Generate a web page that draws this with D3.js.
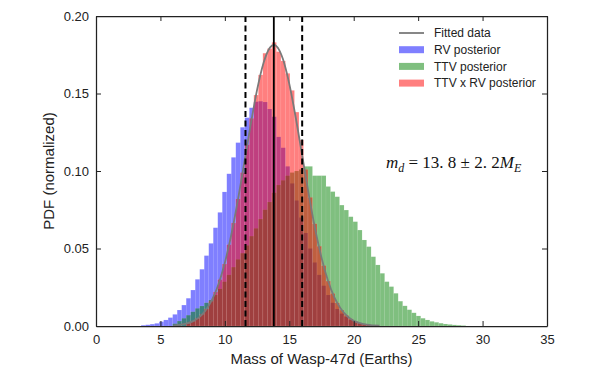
<!DOCTYPE html>
<html>
<head>
<meta charset="utf-8">
<script src="https://cdn.jsdelivr.net/npm/d3@7"></script>
<style>
  body { margin: 0; background: #fff; }
  svg { display: block; font-family: "Liberation Sans", Arial, sans-serif; }
</style>
</head>
<body>
<div id="chart"></div>
<script>
// histogram bins (all three share the same 0.35-wide grid)
const binWidth = 0.35;

const rvStart = 3.5;
const rvValues = [
  0.0005, 0.0008, 0.0012, 0.0017, 0.0028, 0.0039, 0.0054, 0.0075, 0.0103, 0.0135,
  0.0179, 0.0232, 0.0301, 0.0366, 0.0454, 0.0533, 0.0634, 0.0733, 0.0865, 0.0982,
  0.1088, 0.1183, 0.1282, 0.1344, 0.1408, 0.1447, 0.1450, 0.1445, 0.1400, 0.1350,
  0.1220, 0.1150, 0.1030, 0.0920, 0.0810, 0.0700, 0.0600, 0.0500, 0.0410, 0.0330,
  0.0260, 0.0200, 0.0150, 0.0110, 0.0080, 0.0060, 0.0040, 0.0030, 0.0020, 0.0013,
  0.0008, 0.0005
];

const ttvStart = 5.95;
const ttvValues = [
  0.0015, 0.0032, 0.0050, 0.0070, 0.0092, 0.0114, 0.0129, 0.0150, 0.0168, 0.0200,
  0.0240, 0.0286, 0.0330, 0.0380, 0.0430, 0.0470, 0.0520, 0.0580, 0.0630, 0.0690,
  0.0750, 0.0800, 0.0860, 0.0910, 0.0940, 0.0970, 0.0990, 0.1000, 0.1010, 0.1030,
  0.1030, 0.0970, 0.0970, 0.0970, 0.0900, 0.0867, 0.0834, 0.0780, 0.0748, 0.0705,
  0.0673, 0.0619, 0.0555, 0.0512, 0.0447, 0.0394, 0.0340, 0.0286, 0.0254, 0.0211,
  0.0160, 0.0130, 0.0105, 0.0085, 0.0065, 0.0050, 0.0039, 0.0030, 0.0024, 0.0018,
  0.0013, 0.0010, 0.0007, 0.0005, 0.0003
];

const jointStart = 7.0;
const jointValues = [
  0.0019, 0.0031, 0.0050, 0.0075, 0.0110, 0.0160, 0.0220, 0.0300, 0.0400, 0.0525,
  0.0665, 0.0820, 0.0990, 0.1170, 0.1340, 0.1490, 0.1620, 0.1760, 0.1790, 0.1830,
  0.1770, 0.1710, 0.1630, 0.1520, 0.1380, 0.1200, 0.1010, 0.0830, 0.0660, 0.0515,
  0.0390, 0.0290, 0.0210, 0.0150, 0.0103, 0.0070, 0.0046, 0.0030, 0.0019, 0.0012,
  0.0007
];

// fitted gaussian
const fitX = [6, 7, 7.5, 8, 8.5, 9, 9.5, 10, 10.5, 11, 11.5, 12, 12.5, 13, 13.5, 13.8,
  14, 14.5, 15, 15.5, 16, 16.5, 17, 17.5, 18, 18.5, 19, 19.5, 20, 21, 22];
const fitY = [0.0003, 0.0015, 0.0030, 0.0056, 0.0100, 0.0168, 0.0268, 0.0408, 0.0589,
  0.0807, 0.1050, 0.1297, 0.1523, 0.1697, 0.1796, 0.1813, 0.1806, 0.1724, 0.1562,
  0.1345, 0.1100, 0.0854, 0.0629, 0.0441, 0.0293, 0.0185, 0.0111, 0.0063, 0.0034,
  0.0009, 0.0002];

const massMean = 13.8;
const massBounds = [11.6, 16.0];

const xTicks = [0, 5, 10, 15, 20, 25, 30, 35];
const yTicks = [0, 0.05, 0.10, 0.15, 0.20];

const width = 598;
const height = 378;
const margin = { top: 16, right: 51, bottom: 52, left: 96 };

const svg = d3.select("#chart").append("svg")
  .attr("width", width)
  .attr("height", height);

const x = d3.scaleLinear()
  .domain([0, 35])
  .range([margin.left, width - margin.right]);

const y = d3.scaleLinear()
  .domain([0, 0.2])
  .range([height - margin.bottom, margin.top]);

function drawHist(start, values, color) {
  svg.append("g")
    .selectAll("rect")
    .data(values)
    .enter()
    .append("rect")
    .attr("x", (d, i) => x(start + i * binWidth))
    .attr("width", x(binWidth) - x(0))
    .attr("y", d => y(d))
    .attr("height", d => y(0) - y(d))
    .attr("fill", color)
    .attr("fill-opacity", 0.5)
    .attr("stroke", "#fff")
    .attr("stroke-opacity", 0.18)
    .attr("stroke-width", 0.4);
}

drawHist(rvStart, rvValues, "#0000ff");
drawHist(ttvStart, ttvValues, "#008000");
drawHist(jointStart, jointValues, "#ff0000");

// fitted curve
const line = d3.line()
  .x(d => x(d[0]))
  .y(d => y(d[1]))
  .curve(d3.curveMonotoneX);

svg.append("path")
  .datum(fitX.map((d, i) => [d, fitY[i]]))
  .attr("d", line)
  .attr("fill", "none")
  .attr("stroke", "#7a7a7a")
  .attr("stroke-width", 1.8);

// mean and 1-sigma lines
svg.selectAll(".bound")
  .data(massBounds)
  .enter()
  .append("line")
  .attr("class", "bound")
  .attr("x1", d => x(d))
  .attr("x2", d => x(d))
  .attr("y1", y(0))
  .attr("y2", y(0.2))
  .attr("stroke", "#000")
  .attr("stroke-width", 2)
  .attr("stroke-dasharray", "6,3.5");

svg.append("line")
  .attr("x1", x(massMean))
  .attr("x2", x(massMean))
  .attr("y1", y(0))
  .attr("y2", y(0.2))
  .attr("stroke", "#000")
  .attr("stroke-width", 1.8);

// axes, ticks pointing inwards on all four sides
const axisColor = "#222";

const xAxis = svg.append("g")
  .attr("transform", `translate(0, ${y(0)})`)
  .call(d3.axisBottom(x).tickValues(xTicks).tickSize(-5).tickSizeOuter(0).tickPadding(9));

const yAxis = svg.append("g")
  .attr("transform", `translate(${x(0)}, 0)`)
  .call(d3.axisLeft(y).tickValues(yTicks).tickSize(-5).tickSizeOuter(0).tickPadding(7)
    .tickFormat(d3.format(".2f")));

const topAxis = svg.append("g")
  .attr("transform", `translate(0, ${y(0.2)})`)
  .call(d3.axisTop(x).tickValues(xTicks).tickSize(-5).tickSizeOuter(0).tickFormat(""));

const rightAxis = svg.append("g")
  .attr("transform", `translate(${x(35)}, 0)`)
  .call(d3.axisRight(y).tickValues(yTicks).tickSize(-5).tickSizeOuter(0).tickFormat(""));

[xAxis, yAxis, topAxis, rightAxis].forEach(g => {
  g.select(".domain").attr("stroke", axisColor).attr("stroke-width", 1.25);
  g.selectAll(".tick line").attr("stroke", axisColor).attr("stroke-width", 1);
  g.selectAll(".tick text")
    .attr("fill", "#222")
    .style("font-size", "13px")
    .style("font-family", "'Liberation Sans', Arial, sans-serif");
});

// axis labels
svg.append("text")
  .attr("x", (x(0) + x(35)) / 2)
  .attr("y", 364)
  .attr("text-anchor", "middle")
  .attr("fill", "#222")
  .style("font-size", "15px")
  .text("Mass of Wasp-47d (Earths)");

svg.append("text")
  .attr("transform", `translate(54, ${(y(0) + y(0.2)) / 2}) rotate(-90)`)
  .attr("text-anchor", "middle")
  .attr("fill", "#222")
  .style("font-size", "15px")
  .text("PDF (normalized)");

// legend
const legendItems = [
  { label: "Fitted data", type: "line", color: "#7a7a7a" },
  { label: "RV posterior", type: "patch", color: "#0000ff" },
  { label: "TTV posterior", type: "patch", color: "#008000" },
  { label: "TTV x RV posterior", type: "patch", color: "#ff0000" }
];

const legend = svg.append("g")
  .attr("transform", "translate(399, 33)");

legendItems.forEach((d, i) => {
  const row = legend.append("g").attr("transform", `translate(0, ${i * 16.7})`);
  if (d.type === "line") {
    row.append("line")
      .attr("x1", 0).attr("x2", 25)
      .attr("y1", 0).attr("y2", 0)
      .attr("stroke", d.color)
      .attr("stroke-width", 1.8);
  } else {
    row.append("rect")
      .attr("x", 0).attr("y", -3.5)
      .attr("width", 25).attr("height", 7)
      .attr("fill", d.color)
      .attr("fill-opacity", 0.5);
  }
  row.append("text")
    .attr("x", 35)
    .attr("dy", "0.35em")
    .attr("fill", "#222")
    .style("font-size", "12px")
    .text(d.label);
});

// annotation in math style
const note = svg.append("text")
  .attr("x", 386)
  .attr("y", 168)
  .attr("fill", "#111")
  .style("font-family", "'Liberation Serif', 'DejaVu Serif', serif")
  .style("font-size", "17px");

note.append("tspan").style("font-style", "italic").text("m");
note.append("tspan").style("font-style", "italic").style("font-size", "12px").attr("dy", 4).text("d");
note.append("tspan").attr("dy", -4).text(" = 13. 8 \u00b1 2. 2");
note.append("tspan").style("font-style", "italic").text("M");
note.append("tspan").style("font-style", "italic").style("font-size", "12px").attr("dy", 4).text("E");
</script>
</body>
</html>
